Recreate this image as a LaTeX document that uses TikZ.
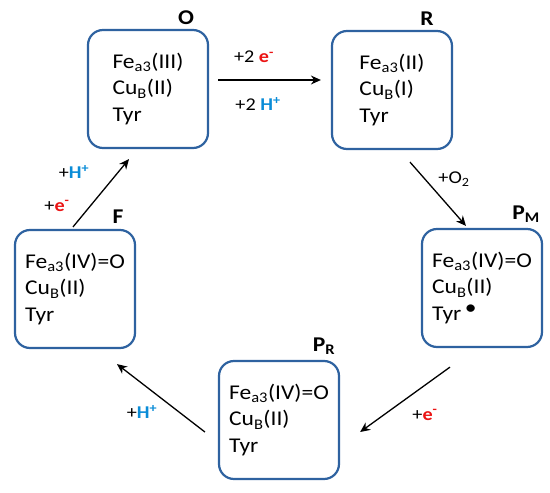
\documentclass[tikz,border=0pt]{standalone}
\usepackage{fontspec}
\setmainfont{Carlito}[FakeStretch=1.12]
\usetikzlibrary{arrows.meta}
\definecolor{boxblue}{RGB}{46,98,160}
\definecolor{hblue}{RGB}{10,140,215}
\definecolor{ered}{RGB}{235,20,20}
\newcommand{\elec}{\textbf{\textcolor{ered}{e\textsuperscript{-}}}}
\newcommand{\prot}{\textbf{\textcolor{hblue}{H\textsuperscript{+}}}}
\begin{document}
\begin{tikzpicture}[x=1pt,y=-1pt,
  state/.style={draw=boxblue, line width=2.2pt, rounded corners=15pt,
    minimum width=120pt, minimum height=118pt, align=left,
    font=\fontsize{21}{26.5}\selectfont, inner sep=0pt},
  tag/.style={font=\fontsize{21}{24}\selectfont\bfseries},
  lbl/.style={font=\fontsize{18}{20}\selectfont},
  rxn/.style={line width=1.3pt, -{Stealth[length=10pt,width=9pt]}}]
\useasboundingbox (0,0) rectangle (550,493);

\node[state] (O) at (148,89) {Fe\textsubscript{a3}(III)\\Cu\textsubscript{B}(II)\\Tyr};
\node[state] (R) at (392,90) {Fe\textsubscript{a3}(II)\\Cu\textsubscript{B}(I)\\Tyr};
\node[state] (PM) at (482,288) {Fe\textsubscript{a3}(IV)=O\\Cu\textsubscript{B}(II)\\Tyr\,\raisebox{0.3em}{\textbullet}};
\node[state] (PR) at (279,420) {Fe\textsubscript{a3}(IV)=O\\Cu\textsubscript{B}(II)\\Tyr};
\node[state] (F) at (75,289) {Fe\textsubscript{a3}(IV)=O\\Cu\textsubscript{B}(II)\\Tyr};

\node[tag] (tO) at (186,18) {O};
\node[tag] (tR) at (427,19) {R};
\node[tag] (tF) at (118,217) {F};
\node[tag] (tPM) at (526,214) {P\textsubscript{M}};
\node[tag] (tPR) at (324,346) {P\textsubscript{R}};

\draw[rxn] ([shift={(9,-9)}]O.east) -- ([shift={(-10,-10)}]R.west);
\draw[rxn] ([shift={(18,12)}]R.south) -- ([shift={(-16,-2)}]PM.north);
\draw[rxn] ([shift={(-32,19)}]PM.south) -- ([shift={(20,12)}]PR.east);
\draw[rxn] ([shift={(-13,12)}]PR.west) -- ([shift={(42,15)}]F.south);
\draw[rxn] ([shift={(-2,-2)}]F.north) -- ([shift={(-19,10)}]O.south);

\node[lbl] (l1) at (254,57) {+2 \elec};
\node[lbl] (l2) at (258,104) {+2 \prot};
\node[lbl] (l3) at (454,179) {+O\textsubscript{2}};
\node[lbl] (l4) at (425,415) {+\elec};
\node[lbl] (l5) at (142,412) {+\prot};
\node[lbl] (l6) at (74,172) {+\prot};
\node[lbl] (l7) at (57,206) {+\elec};
\end{tikzpicture}
\end{document}
